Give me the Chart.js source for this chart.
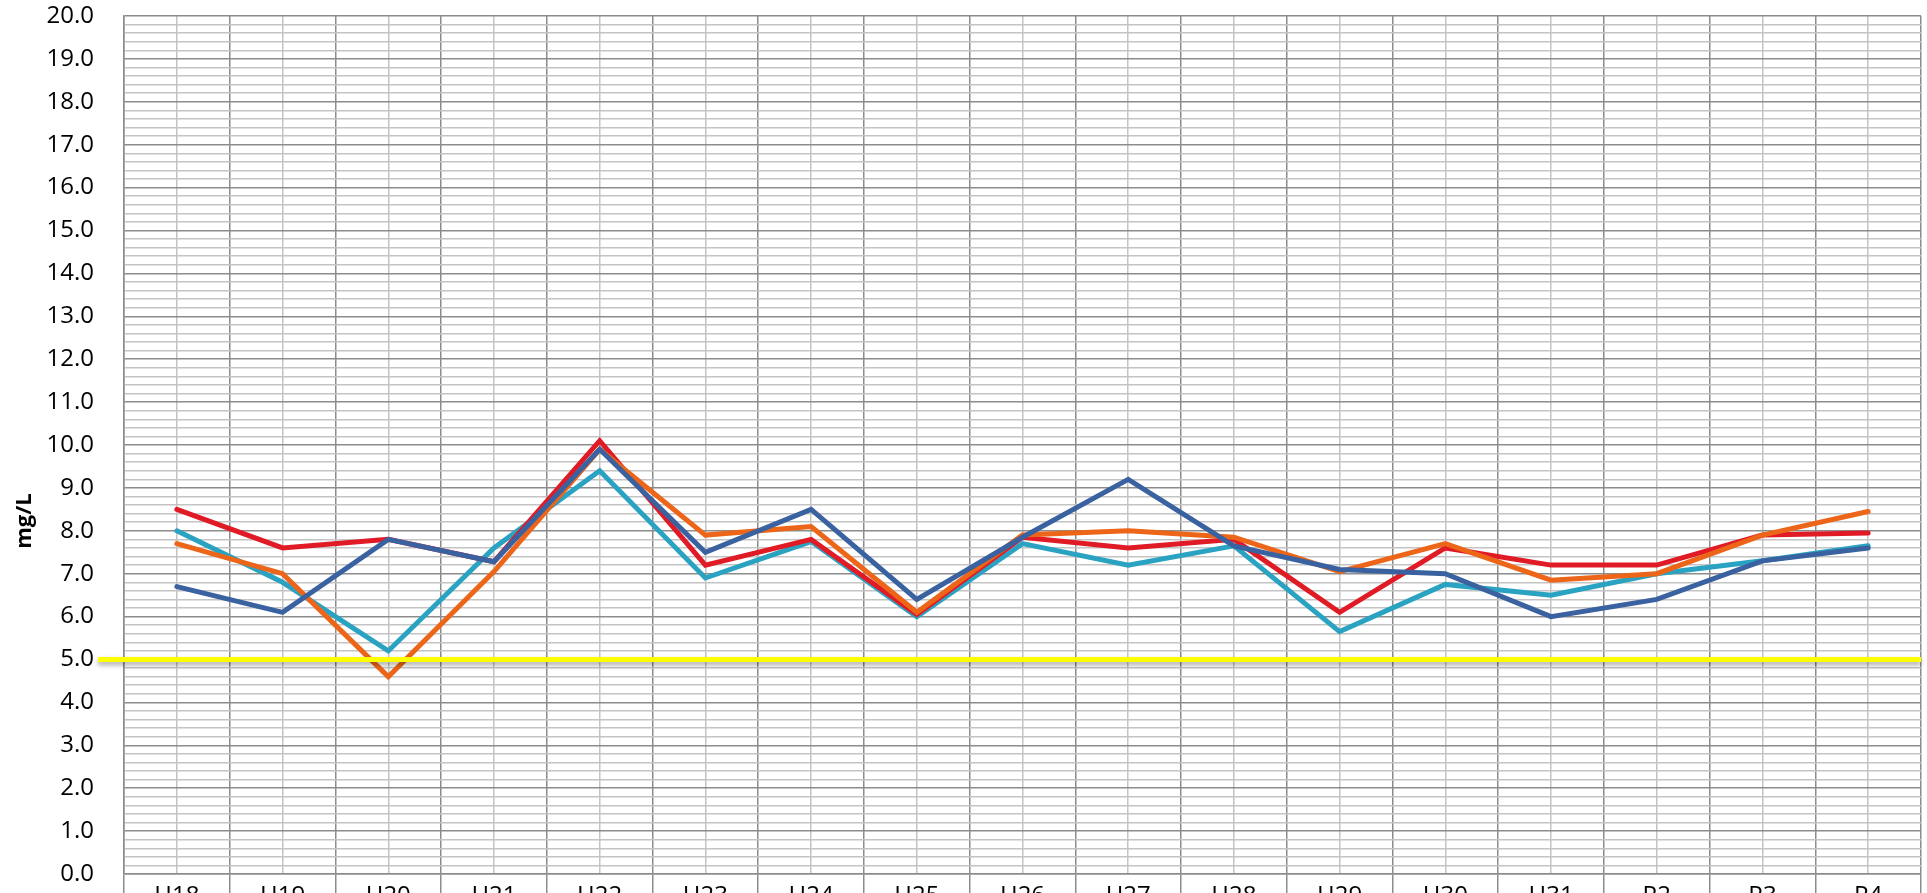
<!DOCTYPE html>
<html>
<head>
<meta charset="utf-8">
<script src="https://cdn.jsdelivr.net/npm/chart.js@4/dist/chart.umd.min.js"></script>
<style>
  html, body { margin: 0; padding: 0; background: #fff; overflow: hidden; }
  #wrap { width: 1927px; height: 914px; position: relative; }
</style>
</head>
<body>
<div id="wrap"><canvas id="chart"></canvas></div>
<script>
// years on the x axis (Heisei / Reiwa)
const categories = ["H18", "H19", "H20", "H21", "H22", "H23", "H24", "H25", "H26",
  "H27", "H28", "H29", "H30", "H31", "R2", "R3", "R4"];

// values, mg/L
const redValues    = [8.5, 7.6, 7.8, 7.28, 10.1, 7.2, 7.8, 6.05, 7.85, 7.6, 7.8, 6.1, 7.6, 7.2, 7.2, 7.9, 7.95];
const tealValues   = [8.0, 6.8, 5.2, 7.6, 9.4, 6.9, 7.75, 6.0, 7.7, 7.2, 7.65, 5.65, 6.75, 6.5, 7.0, 7.3, 7.65];
const orangeValues = [7.7, 7.0, 4.6, 7.05, 9.9, 7.9, 8.1, 6.1, 7.9, 8.0, 7.85, 7.05, 7.7, 6.85, 7.0, 7.9, 8.45];
const blueValues   = [6.7, 6.1, 7.8, 7.28, 9.9, 7.5, 8.5, 6.4, 7.85, 9.2, 7.65, 7.1, 7.0, 6.0, 6.4, 7.3, 7.6];

const yMin = 0;
const yMax = 20;
const yMinorStep = 0.2;
const thresholdValue = 5.0;
const axisTitle = "mg/L";

const FONT = "'Open Sans', 'Liberation Sans', sans-serif";
const majorGrid = "#8c8c8c";
const minorGrid = "#c4c4c4";

const isMajor = (v) => Math.abs(v - Math.round(v)) < 1e-6;

// yellow reference line, runs a bit past the left axis like the original
const thresholdPlugin = {
  id: "threshold",
  afterDatasetsDraw(chart) {
    const { ctx, chartArea, scales } = chart;
    const y = scales.y.getPixelForValue(thresholdValue);
    ctx.save();
    ctx.shadowColor = "rgba(0,0,0,0.35)";
    ctx.shadowBlur = 5;
    ctx.shadowOffsetY = 3;
    ctx.strokeStyle = "#ffff00";
    ctx.lineWidth = 5;
    ctx.beginPath();
    ctx.moveTo(chartArea.left - 26, y);
    ctx.lineTo(chartArea.right, y);
    ctx.stroke();
    ctx.restore();
  },
};

// axis title sits a little below the plot centre in the original
const axisTitlePlugin = {
  id: "axisTitle",
  afterDraw(chart) {
    const ctx = chart.ctx;
    ctx.save();
    ctx.translate(25, 521);
    ctx.rotate(-Math.PI / 2);
    ctx.font = "bold 22px " + FONT;
    ctx.fillStyle = "#000";
    ctx.textAlign = "center";
    ctx.textBaseline = "middle";
    ctx.fillText(axisTitle, 0, 0);
    ctx.restore();
  },
};

const line = (label, data, color) => ({
  label: label,
  data: data,
  borderColor: color,
  backgroundColor: color,
  borderWidth: 5,
  borderCapStyle: "round",
  pointRadius: 0,
  tension: 0,
  fill: false,
});

const chart = new Chart(document.getElementById("chart"), {
  type: "line",
  data: {
    labels: categories,
    // first dataset is painted on top
    datasets: [
      line("D", blueValues, "#3a62a0"),
      line("C", orangeValues, "#ec6518"),
      line("A", redValues, "#e01b26"),
      line("B", tealValues, "#2aa3c2"),
    ],
  },
  options: {
    responsive: true,
    maintainAspectRatio: false,
    animation: false,
    layout: { padding: { top: 16, right: 6, left: 0, bottom: 0 } },
    plugins: {
      legend: { display: false },
      tooltip: { enabled: false },
    },
    scales: {
      x: {
        type: "category",
        offset: true,
        grid: {
          offset: true,
          color: majorGrid,
          lineWidth: 1.5,
          tickLength: 20,
          drawTicks: true,
        },
        border: { color: majorGrid, width: 1.5 },
        ticks: {
          color: "#000",
          font: { family: FONT, size: 24 },
          padding: -12,
          maxRotation: 0,
          autoSkip: false,
        },
        afterFit: (s) => { s.height = 40; },
      },
      xMid: {
        type: "category",
        position: "bottom",
        offset: true,
        grid: { offset: false, color: minorGrid, lineWidth: 1.5, drawTicks: false },
        border: { display: false },
        ticks: { display: false },
        afterFit: (s) => { s.height = 0; },
      },
      y: {
        min: yMin,
        max: yMax,
        grid: {
          drawTicks: true,
          tickLength: 30,
          tickColor: "rgba(0,0,0,0)",
          color: (c) => (c.tick && isMajor(c.tick.value) ? majorGrid : minorGrid),
          lineWidth: 1.5,
        },
        border: { color: majorGrid, width: 1.5 },
        ticks: {
          stepSize: yMinorStep,
          maxTicksLimit: 200,
          autoSkip: false,
          padding: 0,
          color: "#000",
          font: { family: FONT, size: 24 },
          callback: (v) => (isMajor(v) ? Number(v).toFixed(1) : ""),
        },
        afterFit: (s) => { s.width = 124; },
      },
    },
  },
  plugins: [thresholdPlugin, axisTitlePlugin],
});
</script>
</body>
</html>
